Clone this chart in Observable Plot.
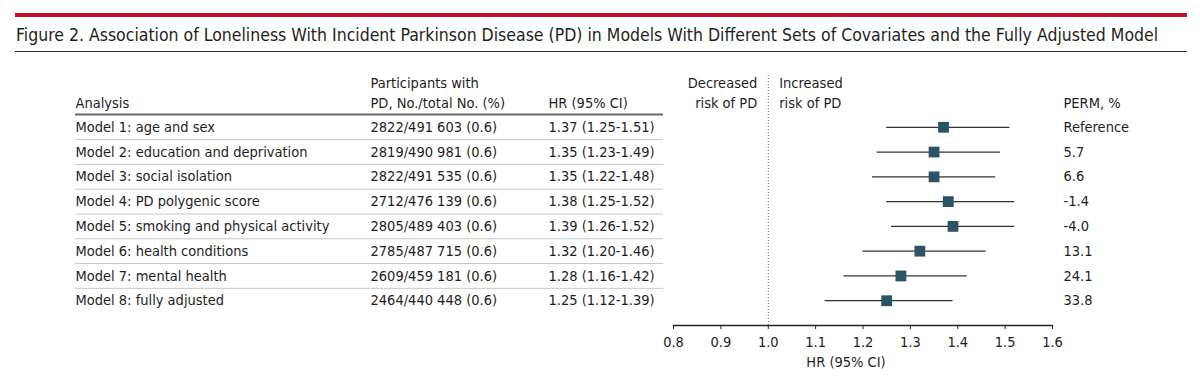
<!DOCTYPE html>
<html><head><meta charset="utf-8">
<script src="https://cdn.jsdelivr.net/npm/d3@7"></script>
<script src="https://cdn.jsdelivr.net/npm/@observablehq/plot@0.6"></script>
<style>
body{margin:0;background:#fff;}
#head{position:relative;width:1200px;height:52px;}
#redbar{position:absolute;left:15px;top:13px;width:1172px;height:4px;background:#c8102e;}
#ttl{position:absolute;left:16px;top:25px;font-family:"DejaVu Sans Condensed","Liberation Sans Narrow",sans-serif;font-size:17.5px;line-height:20px;color:#1e1e1e;white-space:nowrap;}
#rule{position:absolute;left:15px;top:51px;width:1172px;height:1px;background:#333;}
#chart svg{display:block;}
</style></head><body>
<div id="head"><div id="redbar"></div><div id="ttl">Figure 2. Association of Loneliness With Incident Parkinson Disease (PD) in Models With Different Sets of Covariates and the Fully Adjusted Model</div><div id="rule"></div></div>
<div id="chart"></div>
<script>
const models = [
  "Model 1: age and sex",
  "Model 2: education and deprivation",
  "Model 3: social isolation",
  "Model 4: PD polygenic score",
  "Model 5: smoking and physical activity",
  "Model 6: health conditions",
  "Model 7: mental health",
  "Model 8: fully adjusted"
];
const participants = [
  "2822/491 603 (0.6)",
  "2819/490 981 (0.6)",
  "2822/491 535 (0.6)",
  "2712/476 139 (0.6)",
  "2805/489 403 (0.6)",
  "2785/487 715 (0.6)",
  "2609/459 181 (0.6)",
  "2464/440 448 (0.6)"
];
const hr = [1.37, 1.35, 1.35, 1.38, 1.39, 1.32, 1.28, 1.25];
const lo = [1.25, 1.23, 1.22, 1.25, 1.26, 1.20, 1.16, 1.12];
const hi = [1.51, 1.49, 1.48, 1.52, 1.52, 1.46, 1.42, 1.39];
const perm = ["Reference", "5.7", "6.6", "-1.4", "-4.0", "13.1", "24.1", "33.8"];
const xTicks = [0.8, 0.9, 1.0, 1.1, 1.2, 1.3, 1.4, 1.5, 1.6];

const data = models.map((m, i) => ({
  model: m, part: participants[i], hr: hr[i], lo: lo[i], hi: hi[i], perm: perm[i],
  hrText: `${hr[i].toFixed(2)} (${lo[i].toFixed(2)}-${hi[i].toFixed(2)})`
}));

const W = 1200, H = 327, mt = 50, mb = 54, ml = 673, mr = 148;
const pad = 1;
const step = (H - mt - mb) / (models.length - 1 + 2 * pad);
const FONT = `"DejaVu Sans Condensed","Liberation Sans Narrow",sans-serif`;
const ink = "#1e1e1e";
const fs = 14.5;
const txt = {fontSize: fs, fill: ink};

const chart = Plot.plot({
  width: W, height: H,
  marginTop: mt, marginBottom: mb, marginLeft: ml, marginRight: mr,
  style: {fontFamily: FONT, color: ink, background: "#fff"},
  x: {domain: [0.8, 1.6]},
  y: {type: "point", domain: models, padding: pad, round: false, axis: null},
  marks: [
    // table rules
    Plot.ruleY([models[0]], {dy: -step / 2 - 0.5, stroke: "#666", strokeWidth: 2, insetLeft: -598, insetRight: 389}),
    Plot.ruleY(models.slice(1), {y: d => d, dy: -step / 2, stroke: "#c8c8c8", strokeWidth: 1, insetLeft: -598, insetRight: 389}),
    // headers
    Plot.text(["Analysis"], {text: d => d, frameAnchor: "top-left", textAnchor: "start", lineAnchor: "bottom", dx: -598, dy: 5, ...txt}),
    Plot.text(["Participants with\nPD, No./total No. (%)"], {text: d => d, frameAnchor: "top-left", textAnchor: "start", lineAnchor: "bottom", dx: -303, dy: 5, lineHeight: 1.32, ...txt}),
    Plot.text(["HR (95% CI)"], {text: d => d, frameAnchor: "top-left", textAnchor: "start", lineAnchor: "bottom", dx: -125, dy: 5, ...txt}),
    Plot.text(["PERM, %"], {text: d => d, frameAnchor: "top-right", textAnchor: "start", lineAnchor: "bottom", dx: 11, dy: 5, ...txt}),
    Plot.text([{x: 1, t: "Decreased\nrisk of PD"}], {x: "x", text: "t", frameAnchor: "top", textAnchor: "end", lineAnchor: "bottom", dx: -11, dy: 5, lineHeight: 1.32, ...txt}),
    Plot.text([{x: 1, t: "Increased\nrisk of PD"}], {x: "x", text: "t", frameAnchor: "top", textAnchor: "start", lineAnchor: "bottom", dx: 11, dy: 5, lineHeight: 1.32, ...txt}),
    // table body
    Plot.text(data, {y: "model", text: "model", frameAnchor: "left", textAnchor: "start", dx: -598, ...txt}),
    Plot.text(data, {y: "model", text: "part", frameAnchor: "left", textAnchor: "start", dx: -303, ...txt}),
    Plot.text(data, {y: "model", text: "hrText", frameAnchor: "left", textAnchor: "start", dx: -125, ...txt}),
    Plot.text(data, {y: "model", text: "perm", frameAnchor: "right", textAnchor: "start", dx: 11, ...txt}),
    // reference line
    Plot.ruleX([1], {stroke: "#666", strokeWidth: 1, strokeDasharray: "1,2", insetTop: -27}),
    // forest
    Plot.ruleY(data, {y: "model", x1: "lo", x2: "hi", stroke: "#333", strokeWidth: 1.3}),
    Plot.dot(data, {x: "hr", y: "model", symbol: "square", r: 6.1, fill: "#2b5566", stroke: "none"}),
    // axis
    Plot.frame({anchor: "bottom", stroke: "#222", strokeWidth: 1.3}),
    Plot.axisX({ticks: xTicks, tickFormat: d3.format(".1f"), tickSize: 4, tickPadding: 7, fontSize: 14.5, stroke: "#222", color: ink, label: null}),
    Plot.text(["HR (95% CI)"], {text: d => d, frameAnchor: "bottom", lineAnchor: "bottom", dx: -17, dy: 41, ...txt})
  ]
});
document.getElementById("chart").appendChild(chart);
</script>
</body></html>
